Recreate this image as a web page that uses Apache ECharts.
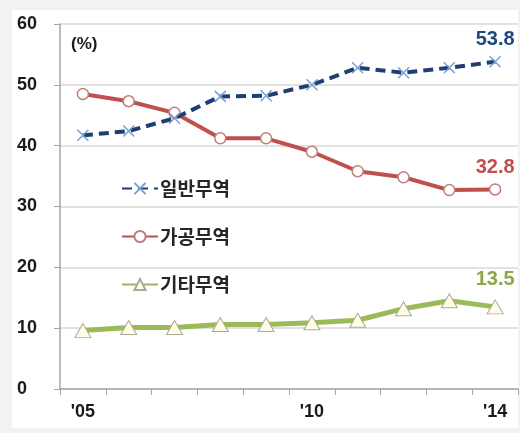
<!DOCTYPE html>
<html>
<head>
<meta charset="utf-8">
<script src="https://cdn.jsdelivr.net/npm/echarts@6/dist/echarts.min.js"></script>
<style>
  html, body { margin: 0; padding: 0; background: #f2f2f2; }
  #chart { width: 520px; height: 433px; }
</style>
</head>
<body>
<div id="chart"></div>
<script>
// Trade share by type, 2005-2014 (%)
const years = ["'05", "'06", "'07", "'08", "'09", "'10", "'11", "'12", "'13", "'14"];
const shownYearLabels = ["'05", "'10", "'14"];
const yTicks = [0, 10, 20, 30, 40, 50, 60];

const seriesNames = ['일반무역', '가공무역', '기타무역'];
const generalTrade = [41.7, 42.4, 44.5, 48.1, 48.2, 50.0, 52.8, 52.0, 52.8, 53.8];
const processingTrade = [48.5, 47.3, 45.4, 41.2, 41.2, 39.0, 35.8, 34.8, 32.7, 32.8];
const otherTrade = [9.6, 10.1, 10.1, 10.6, 10.6, 10.9, 11.3, 13.2, 14.5, 13.5];

const FONT = '"Liberation Sans", Arial, sans-serif';
const KFONT = '"Noto Sans CJK KR", sans-serif';

// Attach a value label to the final point only
function withEndLabel(values, color, dist) {
  return values.map((v, i) => i === values.length - 1
    ? { value: v, label: { show: true, position: 'top', distance: dist, color: color,
        fontFamily: FONT, fontWeight: 'bold', fontSize: 20, formatter: '{c}' } }
    : v);
}

const chart = echarts.init(document.getElementById('chart'));
chart.setOption({
  animation: false,
  backgroundColor: '#f2f2f2',
  graphic: [{
    type: 'rect', z: -10, silent: true,
    shape: { x: 12, y: 10, width: 506, height: 418 },
    style: { fill: '#ffffff' }
  }, {
    type: 'text', left: 71, top: 36,
    style: { text: '(%)', font: 'bold 17px ' + FONT, fill: '#1a1a1a' }
  }],
  grid: { left: 60, right: 2, top: 24, bottom: 44, containLabel: false },
  legend: {
    orient: 'vertical',
    left: 121, top: 179,
    padding: 0,
    itemWidth: 36, itemHeight: 14,
    itemGap: 29,
    data: seriesNames,
    textStyle: { fontFamily: KFONT, fontSize: 19, fontWeight: 'bold', color: '#262626', padding: [0, 0, 0, -3] }
  },
  xAxis: {
    type: 'category',
    data: years,
    boundaryGap: true,
    axisLine: { lineStyle: { color: '#a6a6a6', width: 1.5 } },
    axisTick: { show: true, length: 6, lineStyle: { color: '#a6a6a6' } },
    axisLabel: {
      interval: 0, margin: 14,
      fontFamily: FONT, fontWeight: 'bold', fontSize: 18, color: '#1a1a1a',
      formatter: v => shownYearLabels.includes(v) ? v : ''
    }
  },
  yAxis: {
    type: 'value',
    min: yTicks[0], max: yTicks[yTicks.length - 1], interval: 10,
    axisLine: { show: true, lineStyle: { color: '#a6a6a6', width: 1.5 } },
    axisTick: { show: true, length: 6, lineStyle: { color: '#a6a6a6' } },
    splitLine: { lineStyle: { color: '#d9d9d9', width: 1.5 } },
    axisLabel: {
      align: 'left', margin: 43,
      fontFamily: FONT, fontWeight: 'bold', fontSize: 18, color: '#1a1a1a'
    }
  },
  series: [{
    name: seriesNames[0],
    type: 'line',
    data: withEndLabel(generalTrade, '#1f497d', 6),
    lineStyle: { color: '#1f3f74', width: 4, type: [10, 6] },
    symbol: 'path://M0,0L10,10M10,0L0,10',
    symbolSize: 11,
    itemStyle: { color: 'rgba(0,0,0,0)', borderColor: '#7a9fd0', borderWidth: 1.5 },
    z: 3
  }, {
    name: seriesNames[1],
    type: 'line',
    data: withEndLabel(processingTrade, '#c0504d', 6),
    lineStyle: { color: '#c0504d', width: 4 },
    symbol: 'circle',
    symbolSize: 11,
    itemStyle: { color: '#ffffff', borderColor: '#c07f7d', borderWidth: 1.5 },
    z: 2
  }, {
    name: seriesNames[2],
    type: 'line',
    data: withEndLabel(otherTrade, '#8ea54a', 10),
    lineStyle: { color: '#9bbb59', width: 5 },
    symbol: 'triangle',
    symbolSize: [16, 14],
    itemStyle: { color: '#fffde8', borderColor: '#a8ad98', borderWidth: 1 },
    z: 2
  }]
});
</script>
</body>
</html>
